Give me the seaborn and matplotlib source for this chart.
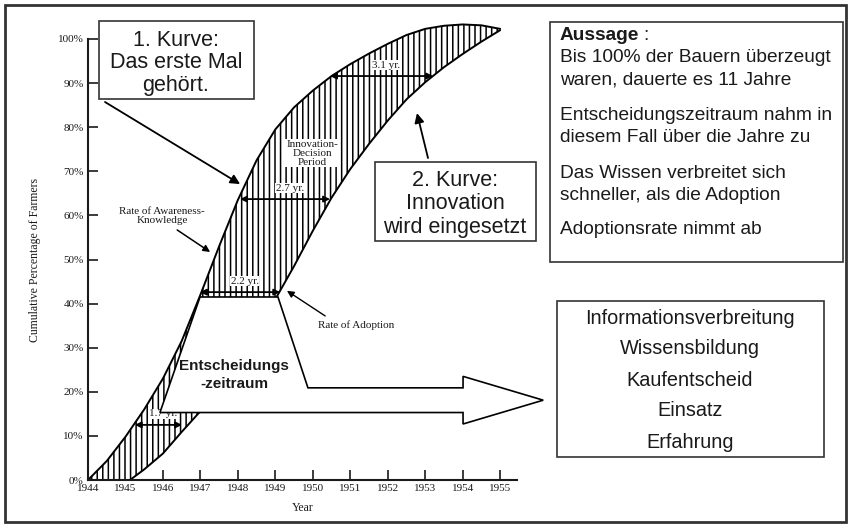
import numpy as np
import matplotlib
matplotlib.use('Agg')
import matplotlib.pyplot as plt
import seaborn as sns
from matplotlib.patches import Polygon, Rectangle

# first curve: rate of awareness-knowledge (cumulative % of farmers)
aware_year = [1944.0, 1944.5, 1945.0, 1945.5, 1946.0, 1946.5, 1947.0, 1947.5, 1948.0, 1948.5,
              1949.0, 1949.5, 1950.0, 1950.5, 1951.0, 1951.5, 1952.0, 1952.5, 1953.0, 1953.5,
              1954.0, 1954.5, 1955.0]
aware_pct = [0, 4.3, 9.8, 16.0, 23.0, 31.5, 42.0, 53.0, 63.5, 72.5,
             79.5, 84.5, 88.3, 91.6, 94.3, 96.7, 98.9, 100.9, 102.3, 103.0,
             103.3, 103.1, 102.3]

# second curve: rate of adoption
adopt_year = [1945.12, 1945.5, 1946.0, 1946.5, 1947.0, 1947.5, 1948.0, 1948.5, 1949.0, 1949.5,
              1950.0, 1950.5, 1951.0, 1951.5, 1952.0, 1952.5, 1953.0, 1953.5, 1954.0, 1954.5,
              1955.0]
adopt_pct = [0, 2.4, 6.0, 10.9, 15.6, 21.3, 27.5, 34.2, 41.0, 48.5,
             56.5, 64.0, 70.5, 76.2, 81.5, 86.3, 90.2, 93.6, 96.6, 99.4,
             102.0]

# innovation-decision period lengths
span_label = ['1.7 yr.', '2.2 yr.', '2.7 yr.', '3.1 yr.']
span_start = [1945.25, 1946.99, 1948.06, 1950.46]
span_end = [1946.51, 1949.13, 1950.46, 1953.21]
span_pct = [12.5, 42.6, 63.7, 91.6]

year_ticks = list(range(1944, 1956))
pct_ticks = list(range(0, 101, 10))
pct_labels = [f'{p}%' for p in pct_ticks]

# outline of the big white arrow (years / percent)
arrow_year = [1945.92, 1946.99, 1949.07, 1949.87, 1954.01, 1954.01, 1956.15, 1954.01, 1954.01]
arrow_pct = [15.3, 41.5, 41.5, 20.9, 20.9, 23.5, 18.1, 12.7, 15.3]

box1_lines = ['1. Kurve:', 'Das erste Mal', 'gehört.']
box2_lines = ['2. Kurve:', 'Innovation', 'wird eingesetzt']
aussage_lines = ['Bis 100% der Bauern überzeugt', 'waren, dauerte es 11 Jahre',
                 'Entscheidungszeitraum nahm in', 'diesem Fall über die Jahre zu',
                 'Das Wissen verbreitet sich', 'schneller, als die Adoption',
                 'Adoptionsrate nimmt ab']
phase_lines = ['Informationsverbreitung', 'Wissensbildung', 'Kaufentscheid', 'Einsatz', 'Erfahrung']

sns.set_style('ticks')
plt.rcParams['font.family'] = ['Liberation Serif', 'DejaVu Serif']
plt.rcParams['hatch.linewidth'] = 1.1
sans = ['Liberation Sans', 'DejaVu Sans']
ink = '#1a1a1a'

fig = plt.figure(figsize=(8.51, 5.26), dpi=100)
fig.patch.set_facecolor('white')
ax = fig.add_axes([88 / 851, 46 / 526, 429 / 851, 441 / 526])

# hatched area between the two curves
ax.fill(aware_year + adopt_year[::-1], aware_pct + adopt_pct[::-1], facecolor='white',
        edgecolor='black', lw=0, hatch='|||', clip_on=False, zorder=1)
sns.lineplot(x=aware_year, y=aware_pct, ax=ax, color='black', lw=1.4, sort=False,
             estimator=None, clip_on=False, zorder=2)
sns.lineplot(x=adopt_year, y=adopt_pct, ax=ax, color='black', lw=1.4, sort=False,
             estimator=None, clip_on=False, zorder=2)

for lab, x0, x1, p in zip(span_label, span_start, span_end, span_pct):
    ax.annotate('', xy=(x1, p), xytext=(x0, p),
                arrowprops=dict(arrowstyle='<|-|>', color='black', lw=1.3,
                                shrinkA=0, shrinkB=0, mutation_scale=9), zorder=3)
    ax.text((x0 + x1) / 2 + 0.12, p + 2.5, lab, ha='center', va='center', fontsize=8,
            color=ink, zorder=3, bbox=dict(facecolor='white', edgecolor='none', pad=0.5))

ax.add_patch(Polygon(np.column_stack([arrow_year, arrow_pct]), closed=True, facecolor='white',
                     edgecolor='black', lw=1.2, clip_on=False, zorder=4))

ax.text(1949.98, 74.1, 'Innovation-\nDecision\nPeriod', ha='center', va='center', fontsize=8,
        linespacing=1.0, color=ink, zorder=3,
        bbox=dict(facecolor='white', edgecolor='none', pad=0.5))
ax.text(1945.98, 59.9, 'Rate of Awareness-\nKnowledge', ha='center', va='center', fontsize=8,
        linespacing=1.0, color=ink)
ax.annotate('', xy=(1947.26, 51.7), xytext=(1946.38, 56.7),
            arrowprops=dict(arrowstyle='-|>', color='black', lw=1.1, shrinkA=0, shrinkB=0,
                            mutation_scale=10))
ax.text(1950.14, 35.1, 'Rate of Adoption', ha='left', va='center', fontsize=8, color=ink)
ax.annotate('', xy=(1949.31, 42.9), xytext=(1950.33, 37.2),
            arrowprops=dict(arrowstyle='-|>', color='black', lw=1.0, shrinkA=0, shrinkB=0,
                            mutation_scale=10))

ax.set_xlim(1944, 1955.45)
ax.set_ylim(0, 100)
ax.set_xticks(year_ticks)
ax.set_xticklabels([str(y) for y in year_ticks])
ax.set_yticks(pct_ticks)
ax.set_yticklabels(pct_labels)
ax.tick_params(direction='in', length=7, width=1.2, labelsize=8, pad=3, colors=ink)
ax.spines[['top', 'right']].set_visible(False)
for s in ['left', 'bottom']:
    ax.spines[s].set_linewidth(1.5)
    ax.spines[s].set_color(ink)
ax.set_xlabel('Year', fontsize=8.5, color=ink)
ax.xaxis.set_label_coords(0.5, -0.05)
ax.set_ylabel('Cumulative Percentage of Farmers', fontsize=8.5, color=ink)
ax.yaxis.set_label_coords(-0.11, 0.5)

# overlay in pixel coordinates for the text boxes
ov = fig.add_axes([0, 0, 1, 1])
ov.set_zorder(2)
ov.set_xlim(0, 851)
ov.set_ylim(526, 0)
ov.axis('off')
ov.patch.set_alpha(0)

ov.add_patch(Rectangle((5, 5), 841, 517, fill=False, lw=2, edgecolor='#333333'))

ov.add_patch(Rectangle((99, 21), 155, 78, facecolor='white', edgecolor='#333333', lw=1.2))
for i, line in enumerate(box1_lines):
    ov.text(176, 40 + 22.5 * i, line, ha='center', va='center', fontsize=15.5, family=sans, color=ink)
ov.annotate('', xy=(1948.06, 67.1), xycoords=ax.transData, xytext=(105, 102), textcoords='data',
            arrowprops=dict(arrowstyle='-|>', color='black', lw=1.3, shrinkA=0, shrinkB=0,
                            mutation_scale=14))

ov.add_patch(Rectangle((375, 162), 161, 79, facecolor='white', edgecolor='#333333', lw=1.2))
for i, line in enumerate(box2_lines):
    ov.text(455, 180 + 23.5 * i, line, ha='center', va='center', fontsize=15.5, family=sans, color=ink)
ov.annotate('', xy=(1952.78, 83.2), xycoords=ax.transData, xytext=(428, 158), textcoords='data',
            arrowprops=dict(arrowstyle='-|>', color='black', lw=1.3, shrinkA=0, shrinkB=0,
                            mutation_scale=14))

ov.add_patch(Rectangle((550, 22), 293, 240, facecolor='white', edgecolor='#333333', lw=1.2))
ov.text(560, 35, 'Aussage', ha='left', va='center', fontsize=13.75, family=sans,
        fontweight='bold', color=ink)
ov.text(643, 35, ':', ha='left', va='center', fontsize=13.75, family=sans, color=ink)
for line, y in zip(aussage_lines, [58, 80, 115, 137, 173, 195, 230]):
    ov.text(560, y, line, ha='left', va='center', fontsize=13.75, family=sans, color=ink)

ov.add_patch(Rectangle((557, 301), 267, 156, facecolor='white', edgecolor='#333333', lw=1.2))
for i, line in enumerate(phase_lines):
    ov.text(690, 318 + 31 * i, line, ha='center', va='center', fontsize=14.3, family=sans, color=ink)

ov.text(234, 366, 'Entscheidungs', ha='center', va='center', fontsize=11, family=sans,
        fontweight='bold', color=ink)
ov.text(234, 384, '-zeitraum', ha='center', va='center', fontsize=11, family=sans,
        fontweight='bold', color=ink)

fig.savefig('out.png', dpi=100)
